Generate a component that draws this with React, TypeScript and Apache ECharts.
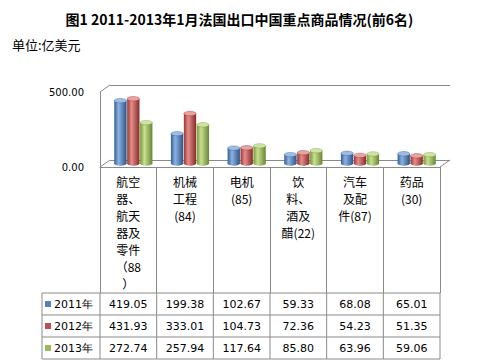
import React, { useEffect, useRef } from 'react';
import * as echarts from 'echarts';

const categories = ['航空器、航天器及零件（88）', '机械工程(84)', '电机(85)', '饮料、酒及醋(22)', '汽车及配件(87)', '药品(30)'];
const categoryLines = ['航空\n器、\n航天\n器及\n零件\n（88\n）', '机械\n工程\n(84)', '电机\n(85)', '饮\n料、\n酒及\n醋(22)', '汽车\n及配\n件(87)', '药品\n(30)'];
const seriesNames = ['2011年', '2012年', '2013年'];
const values2011 = [419.05, 199.38, 102.67, 59.33, 68.08, 65.01];
const values2012 = [431.93, 333.01, 104.73, 72.36, 54.23, 51.35];
const values2013 = [272.74, 257.94, 117.64, 85.8, 63.96, 59.06];
const yMin = 0;
const yMax = 500;
const yInterval = 500;

const allValues = [values2011, values2012, values2013];
const baseColors = ['#4F81BD', '#C0504D', '#9BBB59'];
const gradStops = [
  ['#345f94', '#8db2e2', '#2c5486'],
  ['#983532', '#e58d89', '#842c2a'],
  ['#769838', '#c8e08f', '#688634'],
];
const topColors = ['#9dbde6', '#e9a3a0', '#cfe3a4'];

const FONT_NUM = '"DejaVu Sans", Verdana, sans-serif';
const FONT_CJK = '"Noto Sans CJK SC", sans-serif';

export default function App() {
  const ref = useRef<HTMLDivElement>(null);
  useEffect(() => {
    if (!ref.current) return;
    document.body.style.margin = '0';
    const chart = echarts.init(ref.current, null, { renderer: 'svg' });
    // layout constants
    const fL = 100, fR = 440, fT = 92, fB = 167; // front plane
    const depth = 10, rise = 7;
    const W = 479, H = 362;
    const tableTop = 293, rowH = 22, tableLeft = 42;
    const colW = (fR - fL) / categories.length;
    const lineColor = '#8a8a8a';

    const graphics: any[] = [];
    // 3D box diagonals
    graphics.push({ type: 'line', shape: { x1: fL, y1: fT, x2: fL + depth, y2: fT - rise }, style: { stroke: lineColor, lineWidth: 1 } });
    graphics.push({ type: 'line', shape: { x1: fL, y1: fB, x2: fL + depth, y2: fB - rise }, style: { stroke: lineColor, lineWidth: 1 } });
    graphics.push({ type: 'line', shape: { x1: fR, y1: fB, x2: fR + depth, y2: fB - rise }, style: { stroke: lineColor, lineWidth: 1 } });
    // data table
    const nRows = seriesNames.length;
    for (let r = 0; r <= nRows; r++) {
      graphics.push({ type: 'line', shape: { x1: tableLeft, y1: tableTop + r * rowH, x2: fR, y2: tableTop + r * rowH }, style: { stroke: lineColor, lineWidth: 1 } });
    }
    graphics.push({ type: 'line', shape: { x1: tableLeft, y1: tableTop, x2: tableLeft, y2: tableTop + nRows * rowH }, style: { stroke: lineColor, lineWidth: 1 } });
    for (let c = 0; c <= categories.length; c++) {
      graphics.push({ type: 'line', shape: { x1: fL + c * colW, y1: tableTop, x2: fL + c * colW, y2: tableTop + nRows * rowH }, style: { stroke: lineColor, lineWidth: 1 } });
    }
    for (let r = 0; r < nRows; r++) {
      const cy = tableTop + r * rowH + rowH / 2;
      graphics.push({ type: 'rect', shape: { x: tableLeft + 3, y: cy - 3, width: 6, height: 6 }, style: { fill: baseColors[r] } });
      graphics.push({ type: 'text', x: tableLeft + 12, y: cy, style: { text: seriesNames[r], fill: '#000', font: `11px ${FONT_NUM}`, textVerticalAlign: 'middle', textAlign: 'left' } });
      allValues[r].forEach((v, c) => {
        graphics.push({ type: 'text', x: fL + c * colW + colW / 2, y: cy, style: { text: v.toFixed(2), fill: '#000', font: `11px ${FONT_NUM}`, textVerticalAlign: 'middle', textAlign: 'center' } });
      });
    }

    const makeSeries = (si: number) => ({
      type: 'custom',
      name: seriesNames[si],
      xAxisIndex: 2,
      yAxisIndex: 2,
      data: allValues[si].map((v, i) => [i, v]),
      renderItem: (params: any, api: any) => {
        const ci = api.value(0);
        const v = api.value(1);
        const base = api.coord([ci, 0]);
        const top = api.coord([ci, v]);
        const band = api.size([1, 0])[0];
        const w = band * 0.228;
        const cx = base[0] + (si - 1) * w;
        const rx = w / 2 - 0.3, ry = 2.2;
        const grad = new echarts.graphic.LinearGradient(0, 0, 1, 0, [
          { offset: 0, color: gradStops[si][0] },
          { offset: 0.35, color: gradStops[si][1] },
          { offset: 1, color: gradStops[si][2] },
        ]);
        return {
          type: 'group',
          children: [
            { type: 'ellipse', shape: { cx, cy: base[1], rx, ry }, style: { fill: grad } },
            { type: 'rect', shape: { x: cx - rx, y: top[1], width: rx * 2, height: base[1] - top[1] }, style: { fill: grad } },
            { type: 'ellipse', shape: { cx, cy: top[1], rx, ry }, style: { fill: topColors[si], stroke: gradStops[si][0], lineWidth: 0.4 } },
          ],
        };
      },
    });

    chart.setOption({
      animation: false,
      title: {
        text: '图1 2011-2013年1月法国出口中国重点商品情况(前6名)',
        left: 'center',
        top: 7,
        textStyle: { fontFamily: FONT_CJK, fontSize: 14, fontWeight: 'bold', color: '#000' },
      },
      graphic: [
        { type: 'text', left: 12, top: 38, style: { text: '单位:亿美元', fill: '#000', font: `13px ${FONT_CJK}` } },
        ...graphics,
      ],
      grid: [
        { left: fL + depth, right: W - fR - depth, top: fT - rise, bottom: H - fB + rise },
        { left: fL, right: W - fR, top: fT, bottom: H - fB },
        { left: fL + depth / 2, right: W - fR - depth / 2, top: fT - rise / 2, bottom: H - fB + rise / 2 },
      ],
      xAxis: [
        { gridIndex: 0, type: 'category', data: categories, show: false },
        {
          gridIndex: 1, type: 'category', data: categoryLines,
          axisLine: { show: true, lineStyle: { color: lineColor } },
          axisTick: { show: true, interval: 0, length: tableTop - fB, lineStyle: { color: lineColor } },
          axisLabel: { interval: 0, margin: 6, color: '#000', fontFamily: FONT_CJK, fontSize: 12, lineHeight: 17, align: 'center', verticalAlign: 'top' },
        },
        { gridIndex: 2, type: 'category', data: categories, show: false },
      ],
      yAxis: [
        {
          gridIndex: 0, type: 'value', min: yMin, max: yMax, interval: yInterval,
          axisLabel: { show: false }, axisLine: { show: false }, axisTick: { show: false },
          splitLine: { show: true, lineStyle: { color: lineColor } },
        },
        {
          gridIndex: 1, type: 'value', min: yMin, max: yMax, interval: yInterval,
          axisLabel: { show: true, margin: 16, color: '#000', fontFamily: FONT_NUM, fontSize: 10, formatter: (v: number) => v.toFixed(2) },
          axisLine: { show: true, lineStyle: { color: lineColor } }, axisTick: { show: false },
          splitLine: { show: false },
        },
        {
          gridIndex: 2, type: 'value', min: yMin, max: yMax, interval: yInterval, show: false,
          splitLine: { show: false },
        },
      ],
      series: [makeSeries(0), makeSeries(1), makeSeries(2)],
    });
    return () => chart.dispose();
  }, []);
  return <div ref={ref} style={{ width: 479, height: 362 }} />;
}
